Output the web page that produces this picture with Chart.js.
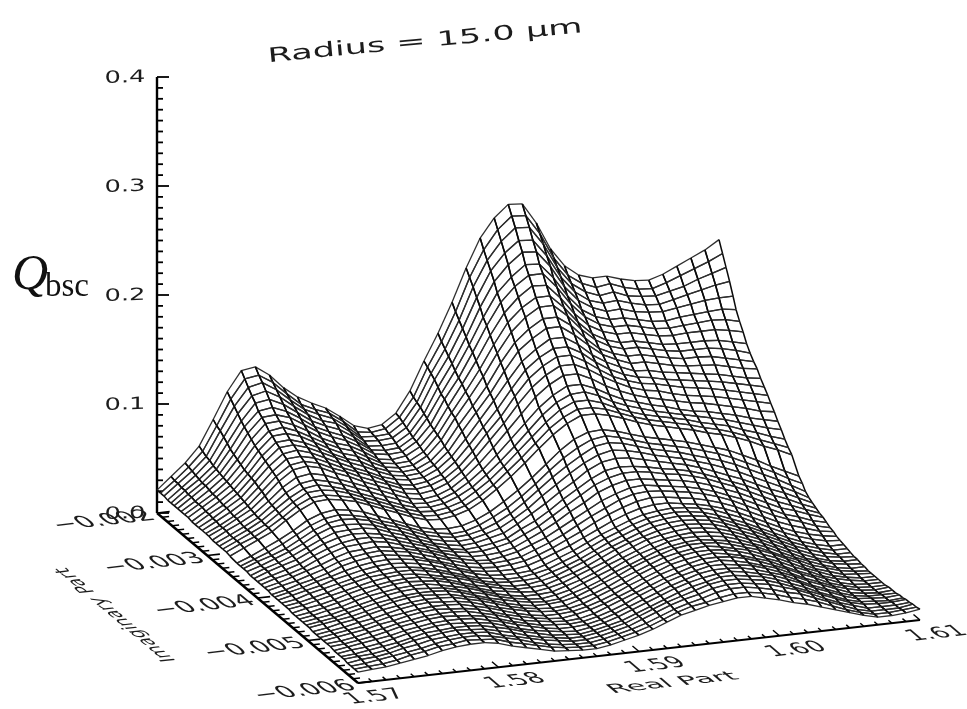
<!DOCTYPE html>
<html>
<head>
<meta charset="utf-8">
<title>Radius = 15.0 um</title>
<script src="https://cdn.jsdelivr.net/npm/chart.js@4/dist/chart.umd.min.js"></script>
<style>
  html, body { margin: 0; background: #fff; }
  canvas { display: block; }
</style>
</head>
<body>
<canvas id="surface" width="967" height="709"></canvas>
<script>
const realPart = [1.570,1.571,1.572,1.573,1.574,1.575,1.576,1.577,1.578,1.579,1.580,1.581,1.582,1.583,1.584,1.585,1.586,1.587,1.588,1.589,1.590,1.591,1.592,1.593,1.594,1.595,1.596,1.597,1.598,1.599,1.600,1.601,1.602,1.603,1.604,1.605,1.606,1.607,1.608,1.609,1.610];
// one row near -0.00352 is missing from the mesh, that is the white band
const imagPart = [-0.00200,-0.00207,-0.00214,-0.00221,-0.00228,-0.00234,-0.00241,-0.00248,-0.00255,-0.00262,-0.00269,-0.00276,-0.00283,-0.00290,-0.00297,-0.00303,-0.00310,-0.00317,-0.00324,-0.00331,-0.00338,-0.00345,-0.00359,-0.00366,-0.00372,-0.00379,-0.00386,-0.00393,-0.00400,-0.00407,-0.00414,-0.00421,-0.00428,-0.00434,-0.00441,-0.00448,-0.00455,-0.00462,-0.00469,-0.00476,-0.00483,-0.00490,-0.00497,-0.00503,-0.00510,-0.00517,-0.00524,-0.00531,-0.00538,-0.00545,-0.00552,-0.00559,-0.00566,-0.00572,-0.00579,-0.00586,-0.00593,-0.00600];
const realTicks = [1.57, 1.58, 1.59, 1.60, 1.61];
const imagTicks = [-0.002, -0.003, -0.004, -0.005, -0.006];
const qTicks = [0.0, 0.1, 0.2, 0.3, 0.4];
const realLabels = ["1.57", "1.58", "1.59", "1.60", "1.61"];
const imagLabels = ["\u22120.002", "\u22120.003", "\u22120.004", "\u22120.005", "\u22120.006"];
const qLabels = ["0.0", "0.1", "0.2", "0.3", "0.4"];

// Qbsc, in thousandths, one row per imagPart, one column per realPart
const Qbsc = [
[21,32,43,57,80,104,122,124,115,102,92,85,79,70,60,56,58,67,86,112,136,163,193,219,236,247,246,227,202,185,175,171,171,167,164,163,167,173,179,185,193],
[21,31,42,55,77,100,117,119,111,99,88,82,77,68,57,55,57,66,83,109,131,157,187,211,228,239,238,220,196,179,170,165,167,162,159,158,162,167,172,177,183],
[21,31,41,53,75,96,112,115,107,96,86,80,75,66,55,54,55,64,81,106,127,152,181,204,220,231,230,213,190,174,165,160,162,157,155,154,157,160,165,169,173],
[20,30,40,52,72,92,107,110,103,93,84,77,73,64,54,53,54,62,79,103,123,147,174,197,212,222,221,205,184,169,160,156,157,153,150,149,152,155,158,161,163],
[20,30,39,50,69,88,103,105,99,90,81,75,70,62,52,51,52,60,76,99,119,142,168,190,204,214,213,198,178,164,156,151,152,148,146,145,147,149,151,152,152],
[20,29,38,49,66,85,98,100,95,87,78,72,67,60,51,49,50,58,74,95,115,137,161,182,195,205,204,190,172,158,150,146,146,143,140,139,141,142,143,144,142],
[20,29,38,48,64,82,95,96,92,84,76,70,65,58,50,48,49,57,71,93,111,133,156,176,189,198,198,184,167,154,146,142,142,139,136,135,136,137,138,137,134],
[20,28,37,47,62,79,92,93,88,81,73,67,63,56,48,46,48,55,69,89,108,128,150,169,182,191,190,177,161,149,142,138,138,135,132,131,132,132,132,130,127],
[20,28,36,46,60,76,88,90,85,78,71,65,61,54,47,45,46,53,67,86,104,123,144,163,175,183,183,171,156,144,137,133,133,130,127,126,126,126,125,122,119],
[20,28,36,45,58,74,86,87,83,76,69,63,59,52,46,44,45,52,65,84,101,119,139,157,169,177,177,166,152,141,134,130,130,127,124,122,122,122,120,117,113],
[19,27,35,44,57,72,83,84,80,74,67,61,57,50,45,43,44,50,62,80,96,113,133,150,161,169,169,160,147,136,130,126,126,123,120,118,118,117,114,111,108],
[19,27,34,43,56,70,81,82,78,72,66,60,55,49,44,42,43,49,60,77,93,109,128,145,155,163,163,154,143,133,127,122,122,119,116,114,113,112,109,106,104],
[19,26,34,42,55,68,78,80,76,70,64,58,53,47,43,41,42,48,58,73,89,105,122,138,148,156,156,148,137,129,123,118,117,114,112,110,108,106,103,100,98],
[19,26,33,41,53,66,76,77,74,68,62,57,52,46,41,39,41,46,56,70,85,100,117,133,143,150,150,143,133,125,119,115,113,110,108,106,104,102,99,96,93],
[19,25,32,40,52,64,73,75,72,66,61,55,50,45,40,38,40,45,54,67,82,96,113,128,138,145,145,138,129,121,116,112,110,107,104,102,100,97,94,91,88],
[19,25,32,39,50,62,71,73,70,64,59,53,48,43,38,36,38,43,52,64,78,92,108,122,132,139,139,133,125,118,112,108,106,102,99,97,95,92,89,86,83],
[18,25,31,38,48,59,67,69,66,61,56,51,46,41,36,34,36,41,50,61,74,88,102,116,126,133,133,127,119,113,108,104,101,98,95,93,90,87,84,80,78],
[18,24,30,37,47,57,64,66,63,59,54,49,44,39,34,33,35,40,48,58,70,83,96,109,119,126,126,121,114,108,104,100,97,93,90,88,85,82,78,75,72],
[18,24,30,37,46,55,62,64,61,57,52,47,42,37,33,32,34,39,46,56,67,79,92,105,115,121,122,117,110,105,101,97,94,91,88,85,82,78,74,70,67],
[18,24,30,36,45,54,61,62,60,56,51,46,41,36,32,31,33,37,45,54,65,77,89,101,111,117,117,113,107,102,98,95,92,89,85,82,79,74,70,65,61],
[18,24,29,36,44,53,59,60,58,55,50,45,40,35,31,30,32,36,43,52,63,74,86,98,107,113,113,110,105,100,96,93,90,87,83,80,76,71,66,61,56],
[17,23,29,35,44,52,58,59,57,54,49,44,39,34,30,29,31,35,42,51,61,72,84,95,104,110,110,107,103,98,94,91,88,85,81,78,74,69,63,58,52],
[16,21,27,33,40,48,53,55,53,50,45,40,35,30,27,26,27,31,37,45,54,64,75,86,95,100,101,98,94,90,87,84,81,77,73,69,63,57,50,44,38],
[16,21,26,32,39,46,51,53,51,48,43,39,34,29,26,24,25,29,35,42,51,61,72,82,90,96,98,95,91,87,84,81,78,74,70,65,59,53,47,40,34],
[16,21,25,30,37,44,49,51,50,47,42,38,33,28,25,23,24,27,32,39,48,58,68,77,85,92,94,92,88,84,81,78,74,70,66,61,55,49,43,36,29],
[16,20,25,30,36,43,48,49,48,46,41,37,32,27,24,22,23,26,30,37,45,55,64,73,81,87,90,88,85,81,78,75,71,67,62,57,51,45,39,33,26],
[15,20,24,29,35,41,46,47,47,45,40,36,31,26,23,21,22,25,28,35,43,51,60,68,77,83,85,84,81,78,75,72,68,63,58,53,47,41,36,30,24],
[15,20,24,28,34,40,44,46,45,43,39,35,30,26,22,20,21,23,26,33,39,47,56,64,72,78,80,79,77,74,72,69,65,60,55,50,44,38,33,27,22],
[15,19,23,27,33,38,42,44,44,42,38,34,30,25,22,20,20,22,25,31,37,45,53,61,69,74,77,77,75,72,70,67,63,58,53,47,41,35,30,25,20],
[15,19,22,26,32,37,41,42,43,41,37,33,29,25,21,19,19,20,23,29,35,42,50,57,65,70,73,73,71,69,67,64,60,55,50,44,38,32,28,23,19],
[15,18,22,26,30,35,39,40,41,39,36,33,29,24,21,18,17,19,22,27,32,39,46,53,60,65,69,70,68,66,64,61,57,52,47,41,35,29,25,20,17],
[15,18,21,25,29,34,37,39,40,38,36,32,28,24,20,18,17,18,20,25,30,36,43,50,56,62,66,67,66,64,62,59,55,50,44,38,32,27,23,18,15],
[14,17,21,24,28,33,36,38,39,37,35,31,27,23,19,17,16,17,19,23,28,34,40,47,53,58,62,64,63,61,59,56,52,47,41,35,29,24,20,16,14],
[14,17,20,24,27,31,34,36,37,36,34,31,27,22,18,16,15,15,17,21,26,31,37,43,49,54,58,60,60,58,56,53,49,44,38,32,26,21,17,14,12],
[14,17,20,23,27,30,33,35,36,35,33,30,26,22,18,15,14,14,15,19,24,29,35,41,46,51,55,57,58,57,55,52,47,42,36,30,24,19,15,12,11],
[14,16,20,23,26,29,32,34,35,34,32,29,25,21,17,15,13,13,15,18,23,28,34,40,45,50,54,56,57,56,54,50,45,40,34,28,22,17,13,10,10],
[14,16,19,22,26,29,32,33,34,34,32,29,25,21,17,14,13,13,14,18,22,27,33,39,44,49,53,55,56,55,53,49,44,39,33,27,21,16,12,9,9],
[14,16,19,22,25,28,31,33,34,33,31,28,25,21,17,14,12,12,14,17,22,27,33,38,43,48,52,54,55,54,52,48,43,38,32,26,20,15,11,8,8],
[13,16,18,21,25,28,30,32,33,33,31,28,24,20,17,14,12,12,13,17,21,26,32,38,43,47,51,53,54,53,51,47,42,37,31,25,19,14,10,8,7],
[13,15,18,21,24,27,30,32,33,32,31,28,24,20,16,14,12,11,13,16,21,26,31,37,42,47,50,52,53,52,50,46,41,36,30,24,18,13,9,7,7],
[13,15,18,20,24,27,29,31,32,32,30,27,24,20,16,13,11,11,12,16,20,25,31,36,41,46,49,51,52,51,49,45,40,35,29,23,17,13,9,7,6],
[13,15,17,20,23,26,29,31,32,31,30,27,23,20,16,13,11,10,12,15,20,25,30,36,41,45,49,51,51,50,48,44,39,34,28,22,17,12,8,6,6],
[13,15,17,20,23,26,28,30,31,31,30,27,23,19,16,13,11,10,11,15,19,24,30,35,40,45,48,50,51,49,47,43,39,33,27,22,16,12,8,6,5],
[13,15,17,19,22,25,28,30,31,30,29,26,23,19,15,12,10,10,11,14,19,24,29,35,40,44,48,50,50,49,46,42,38,33,27,21,15,11,7,6,5],
[12,14,17,19,22,25,27,29,30,30,29,26,23,19,15,12,10,9,10,14,18,23,29,34,39,44,47,49,50,48,45,42,37,32,26,20,15,10,7,5,5],
[12,14,16,19,21,24,27,29,30,29,28,26,22,18,15,12,10,9,10,13,18,23,28,34,39,43,47,49,49,48,45,41,36,31,25,20,14,10,7,5,5],
[12,14,16,18,21,24,26,28,29,29,28,25,22,18,14,11,9,9,10,13,17,22,28,33,38,43,46,48,49,47,44,40,36,30,24,19,14,9,6,5,5],
[12,14,16,18,21,23,26,28,29,28,27,25,21,17,14,11,9,8,10,13,17,22,27,33,38,42,45,48,48,47,44,40,35,30,24,19,13,9,6,5,5],
[12,13,15,18,20,23,25,27,28,28,27,24,21,17,13,11,9,8,9,12,17,22,27,32,37,41,45,47,48,46,43,39,35,29,23,18,13,9,6,5,6],
[12,13,15,17,20,23,25,27,28,27,26,24,20,16,13,10,9,8,9,12,16,21,27,32,37,41,44,47,47,45,43,39,34,29,23,18,13,8,6,5,6],
[11,13,15,17,19,22,24,26,27,27,26,23,20,16,13,10,8,8,9,12,16,21,26,31,36,40,44,46,46,45,42,38,34,28,22,17,12,8,6,6,6],
[11,13,14,16,19,22,24,26,27,26,25,23,19,15,12,10,8,7,9,12,16,21,26,31,36,40,43,45,46,44,41,38,33,28,22,17,12,8,7,6,7],
[11,12,14,16,18,21,24,25,26,26,25,22,19,15,12,9,8,7,9,12,15,20,25,30,35,39,42,45,45,43,41,37,32,27,21,16,11,8,7,6,7],
[11,12,13,15,18,21,23,25,26,25,24,21,18,14,11,9,7,7,9,12,15,20,25,30,34,38,42,44,44,42,40,36,31,26,21,16,11,8,7,7,8],
[10,12,13,15,18,20,23,24,25,25,24,20,17,14,11,9,7,7,9,12,15,20,25,30,34,37,41,43,43,41,39,35,31,26,20,15,11,7,7,7,8],
[10,11,13,15,17,19,22,24,25,25,23,20,17,13,10,8,7,7,9,12,15,19,24,29,33,36,40,42,42,40,37,33,30,25,20,15,10,7,7,7,9],
[10,11,12,14,17,19,22,23,25,24,23,19,16,13,10,8,7,7,9,12,15,19,24,29,33,35,38,40,40,38,35,31,28,24,19,14,10,7,7,8,9],
[10,11,12,14,16,18,21,23,24,24,22,18,15,12,9,8,7,7,9,12,15,19,24,29,32,35,37,39,39,36,33,29,26,22,18,14,10,7,7,8,10]
];

// oblique projection of the IDL surface plot onto the page
function project(re, im, q) {
  const u = (re - 1.57) / 0.04;
  const v = (-0.002 - im) / 0.004;
  return { x: 157 + 562 * u + 201 * v, y: 513 - 63 * u + 170 * v - 1090 * q };
}

function lineSet(points, width) {
  return { data: points, showLine: true, borderColor: "#000", borderWidth: width, pointRadius: 0, fill: false };
}

const datasets = [];

// odd edges of a quad run front to back and are drawn heavier than the rows
const quadSegment = {
  borderWidth: ctx => (ctx.p0DataIndex % 2 ? 1.5 : 1.3),
  borderColor: ctx => (ctx.p0DataIndex % 2 ? "#0a0a0a" : "#2e2e2e")
};

// chart.js paints the first dataset last, so the front of the surface goes first
for (let r = imagPart.length - 2; r >= 0; r--) {
  for (let c = 0; c < realPart.length - 1; c++) {
    const quad = [
      project(realPart[c], imagPart[r], Qbsc[r][c] / 1000),
      project(realPart[c + 1], imagPart[r], Qbsc[r][c + 1] / 1000),
      project(realPart[c + 1], imagPart[r + 1], Qbsc[r + 1][c + 1] / 1000),
      project(realPart[c], imagPart[r + 1], Qbsc[r + 1][c] / 1000)
    ];
    quad.push(quad[0]);
    datasets.push({
      data: quad, showLine: true, pointRadius: 0, borderWidth: 1, borderColor: "#222",
      backgroundColor: "#fff", fill: "shape", segment: quadSegment
    });
  }
}

// axes
datasets.push(lineSet([project(1.57, -0.002, 0), project(1.57, -0.002, 0.4)], 2.4));
datasets.push(lineSet([project(1.57, -0.002, 0), project(1.57, -0.006, 0)], 2.4));
datasets.push(lineSet([project(1.57, -0.006, 0), project(1.61, -0.006, 0)], 2.2));

for (let i = 0; i <= 40; i++) {
  const major = i % 10 === 0;
  // Q axis ticks
  const qv = i * 0.01;
  const qp = project(1.57, -0.002, qv);
  datasets.push(lineSet([qp, { x: qp.x + (major ? 12 : 6), y: qp.y }], 1.8));
  // imaginary axis ticks lie along the real direction
  const im = -0.002 - i * 0.0001;
  datasets.push(lineSet([project(1.57, im, 0), project(1.57 + (major ? 0.0009 : 0.0005), im, 0)], 1.6));
  // real axis ticks lie along the imaginary direction
  const re = 1.57 + i * 0.001;
  datasets.push(lineSet([project(re, -0.006, 0), project(re, -0.006 + (major ? 0.00013 : 0.00007), 0)], 1.4));
}

const FONT = '"DejaVu Sans", sans-serif';
const REAL_DIR = [0.9938, -0.1114];
const IMAG_UP = [-0.7634, -0.6459];

// text lying in a tilted plane: dir is the baseline, up the glyph height, both on the page
function planeText(chart, text, cx, cy, dir, up, width, height) {
  const { ctx, scales } = chart;
  ctx.save();
  ctx.font = "20px " + FONT;
  ctx.textAlign = "center";
  ctx.textBaseline = "middle";
  ctx.fillStyle = "#1c1c1c";
  const sx = width / ctx.measureText(text).width;
  const sy = height / 20;
  ctx.translate(scales.x.getPixelForValue(cx), scales.y.getPixelForValue(cy));
  ctx.transform(dir[0] * sx, dir[1] * sx, -up[0] * sy, -up[1] * sy, 0, 0);
  ctx.fillText(text, 0, 0);
  ctx.restore();
}

const labelsPlugin = {
  id: "labels",
  afterDraw(chart) {
    const { ctx } = chart;
    qLabels.forEach((t, i) => {
      const p = project(1.57, -0.002, qTicks[i]);
      planeText(chart, t, p.x - 32, p.y + 1, [1, -0.03], [0, -1], 41, 17);
    });
    imagLabels.forEach((t, i) => {
      const p = project(1.57, imagTicks[i], 0);
      planeText(chart, t, p.x - 53, p.y + 8, REAL_DIR, IMAG_UP, 98, 23);
    });
    realLabels.forEach((t, i) => {
      const p = project(realTicks[i], -0.006, 0);
      planeText(chart, t, p.x + 17, p.y + 14, REAL_DIR, IMAG_UP, 56, 22);
    });
    planeText(chart, "Real Part", 673, 683, REAL_DIR, IMAG_UP, 128, 18);
    planeText(chart, "Imaginary Part", 116, 615, [-0.7634, -0.6459], [-0.9938, 0.1114], 145, 20);
    planeText(chart, "Radius = 15.0 \u03bcm", 425, 42, [0.9955, -0.0947], [-0.0947, -0.9955], 316, 20);

    ctx.save();
    ctx.fillStyle = "#111";
    ctx.textBaseline = "alphabetic";
    ctx.font = 'italic 50px "Liberation Serif", serif';
    ctx.fillText("Q", 12, 289);
    ctx.font = '33px "Liberation Serif", serif';
    ctx.fillText("bsc", 45, 296);
    ctx.restore();
  }
};

new Chart(document.getElementById("surface"), {
  type: "scatter",
  data: { datasets: datasets },
  options: {
    responsive: false,
    animation: false,
    events: [],
    layout: { padding: 0 },
    plugins: { legend: { display: false }, tooltip: { enabled: false }, title: { display: false } },
    scales: {
      x: { type: "linear", display: false, min: 0, max: 967 },
      y: { type: "linear", display: false, min: 0, max: 709, reverse: true }
    }
  },
  plugins: [labelsPlugin]
});
</script>
</body>
</html>
